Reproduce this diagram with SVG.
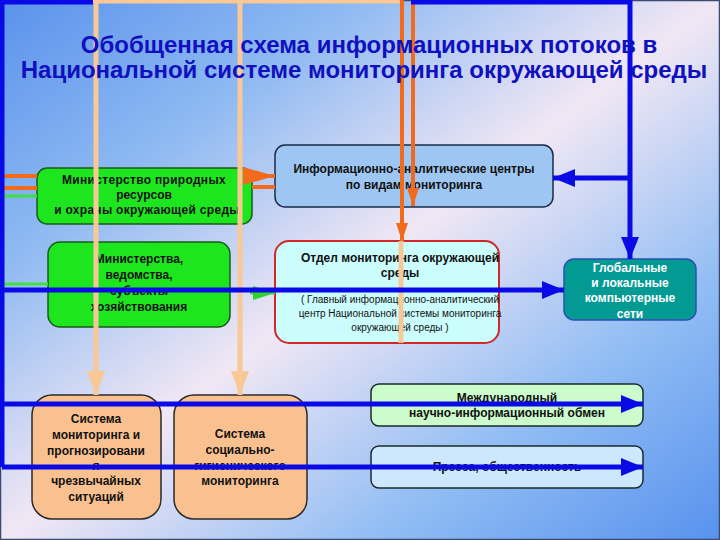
<svg xmlns="http://www.w3.org/2000/svg" width="720" height="540" viewBox="0 0 720 540">
<defs>
<linearGradient id="bg" x1="0" y1="0" x2="1" y2="1">
<stop offset="0" stop-color="#5a92ec"/>
<stop offset="0.25" stop-color="#8fbaf2"/>
<stop offset="0.5" stop-color="#f1e7f4"/>
<stop offset="0.75" stop-color="#93bef4"/>
<stop offset="1" stop-color="#5892ee"/>
</linearGradient>
<marker id="ab" markerUnits="userSpaceOnUse" markerWidth="22" markerHeight="18" refX="22" refY="9" orient="auto"><path d="M0,0 L22,9 L0,18 z" fill="#0a0ae6"/></marker>
<marker id="ao" markerUnits="userSpaceOnUse" markerWidth="32" markerHeight="18" refX="32" refY="9" orient="auto"><path d="M0,0 L32,9 L0,18 z" fill="#f26b1d"/></marker>
<marker id="aos" markerUnits="userSpaceOnUse" markerWidth="18" markerHeight="12" refX="18" refY="6" orient="auto"><path d="M0,0 L18,6 L0,12 z" fill="#f26b1d"/></marker>
<marker id="ap" markerUnits="userSpaceOnUse" markerWidth="24" markerHeight="18" refX="24" refY="9" orient="auto"><path d="M0,0 L24,9 L0,18 z" fill="#f8c896"/></marker>
<marker id="ag" markerUnits="userSpaceOnUse" markerWidth="22" markerHeight="14" refX="22" refY="7" orient="auto"><path d="M0,0 L22,7 L0,14 z" fill="#2fd22f"/></marker>
<clipPath id="c1"><rect x="37" y="168" width="215" height="56" rx="10"/></clipPath>
</defs>
<style>
.t{font-family:"Liberation Sans",Arial,sans-serif;font-weight:bold;text-anchor:middle;fill:#111;font-size:12px}
.s{font-family:"Liberation Sans",Arial,sans-serif;text-anchor:middle;fill:#111;font-size:10px}
.w{fill:#fff}
.title{font-family:"Liberation Sans",Arial,sans-serif;font-weight:bold;text-anchor:middle;fill:#1010c0;font-size:24px}
.bl{stroke:#0a0ae6;stroke-width:5;fill:none}
.or{stroke:#f26b1d;stroke-width:4;fill:none}
.pe{stroke:#f8c896;stroke-width:5;fill:none}
.gr{stroke:#40e040;stroke-width:3;fill:none}
</style>
<rect width="720" height="540" fill="url(#bg)"/>
<rect x="0.5" y="0.5" width="719" height="539" fill="none" stroke="#3a4a70" stroke-width="1.5"/>

<g id="minprirody">
<rect x="37" y="168" width="215" height="56" rx="10" fill="#1ee61e" stroke="#1a5a1a" stroke-width="1.5"/>
<g clip-path="url(#c1)">
<text class="t" x="144" y="184" letter-spacing="0.3">Министерство природных</text>
<text class="t" x="144" y="199">ресурсов</text>
<text class="t" x="147" y="214" letter-spacing="0.3">и охраны окружающей среды</text>
</g>
</g>

<g id="ministerstva">
<rect x="48" y="242" width="182" height="85" rx="12" fill="#1ee61e" stroke="#1a5a1a" stroke-width="1.5"/>
<text class="t" x="139" y="263">Министерства,</text>
<text class="t" x="139" y="279">ведомства,</text>
<text class="t" x="139" y="295">субъекты</text>
<text class="t" x="139" y="311">хозяйствования</text>
</g>

<g id="infocentry">
<rect x="275" y="145" width="278" height="62" rx="10" fill="#9ec6f2" stroke="#1a2a4a" stroke-width="1.5"/>
<text class="t" x="414" y="173">Информационно-аналитические центры</text>
<text class="t" x="414" y="189">по видам мониторинга</text>
</g>

<g id="otdel">
<rect x="275" y="241" width="224" height="102" rx="14" fill="#ccfdfd" stroke="#d02828" stroke-width="2"/>
<text class="t" x="400" y="262">Отдел мониторинга окружающей</text>
<text class="t" x="400" y="277">среды</text>
<text class="s" x="400" y="303">( Главный информационно-аналитический</text>
<text class="s" x="400" y="317">центр Национальной системы мониторинга</text>
<text class="s" x="400" y="331">окружающей среды )</text>
</g>

<g id="global">
<rect x="564" y="259" width="132" height="61" rx="10" fill="#049a94" stroke="#2a50b0" stroke-width="1.5"/>
<text class="t w" x="630" y="272">Глобальные</text>
<text class="t w" x="630" y="287">и локальные</text>
<text class="t w" x="630" y="302">компьютерные</text>
<text class="t w" x="630" y="318">сети</text>
</g>

<g id="chs">
<rect x="32" y="395" width="129" height="124" rx="20" fill="#fac190" stroke="#2a2a2a" stroke-width="1.5"/>
<text class="t" x="96" y="423">Система</text>
<text class="t" x="96" y="439">мониторинга и</text>
<text class="t" x="96" y="455">прогнозировани</text>
<text class="t" x="96" y="470">я</text>
<text class="t" x="96" y="485">чрезвычайных</text>
<text class="t" x="96" y="501">ситуаций</text>
</g>

<g id="sgm">
<rect x="174" y="395" width="133" height="124" rx="20" fill="#fac190" stroke="#2a2a2a" stroke-width="1.5"/>
<text class="t" x="240" y="438">Система</text>
<text class="t" x="240" y="454">социально-</text>
<text class="t" x="240" y="470">гигиенического</text>
<text class="t" x="240" y="485">мониторинга</text>
</g>

<g id="mezhdunar">
<rect x="371" y="384" width="272" height="42" rx="8" fill="#ccfccc" stroke="#1a2a2a" stroke-width="1.5"/>
<text class="t" x="507" y="402">Международный</text>
<text class="t" x="507" y="417">научно-информационный обмен</text>
</g>

<g id="pressa">
<rect x="371" y="446" width="272" height="42" rx="8" fill="#cde8fc" stroke="#1a2a2a" stroke-width="1.5"/>
<text class="t" x="507" y="471">Пресса, общественность</text>
</g>

<g id="connectors">
<path class="or" d="M0,176 H37"/>
<path class="or" d="M0,188 H37"/>
<path class="gr" d="M3,196 H37"/>
<path class="gr" d="M3,284 H48"/>
<path class="or" d="M252,176 H275" marker-end="url(#ao)"/>
<path class="or" d="M252,187 H275"/>
<path class="gr" d="M250,293 H275" marker-end="url(#ag)"/>
<path class="pe" d="M93,1 H402"/>
<path class="pe" d="M96,1 V395" marker-end="url(#ap)"/>
<path class="pe" d="M240,1 V395" marker-end="url(#ap)"/>
<path class="or" d="M402,0 V241" marker-end="url(#aos)"/>
<path class="or" d="M413,0 V206" marker-end="url(#aos)"/>
<path class="pe" d="M401,241 V343" stroke-width="4"/>
<path class="bl" d="M0,2 H93"/>
<path class="bl" d="M2,0 V467"/>
<path class="bl" d="M411,2 H630"/>
<path class="bl" d="M630,0 V259" marker-end="url(#ab)"/>
<path class="bl" d="M630,178 H553" marker-end="url(#ab)"/>
<path class="bl" d="M0,290 H564" stroke-width="6" marker-end="url(#ab)"/>
<path class="bl" d="M0,404 H643" marker-end="url(#ab)"/>
<path class="bl" d="M2,467 H643" marker-end="url(#ab)"/>
</g>

<g id="title">
<text class="title" x="369" y="53">Обобщенная схема информационных потоков в</text>
<text class="title" x="364" y="78">Национальной системе мониторинга окружающей среды</text>
</g>
</svg>
